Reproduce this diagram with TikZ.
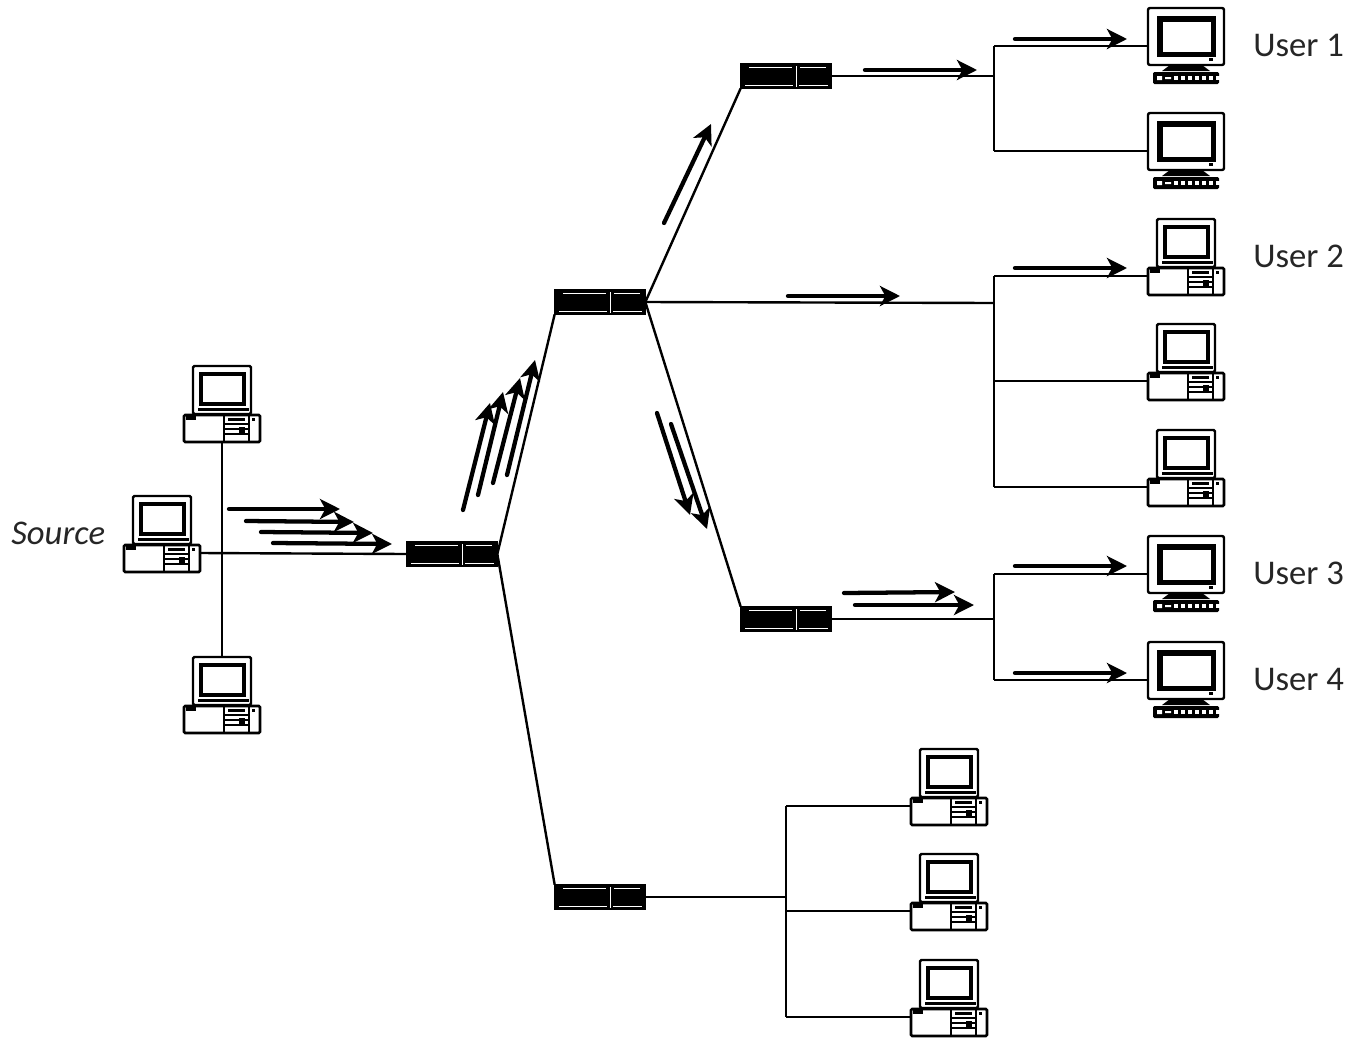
\documentclass[tikz,border=0pt]{standalone}
\usepackage{fontspec}
\setmainfont{Carlito}
\usetikzlibrary{arrows.meta,backgrounds}
\tikzset{
  x=0.75pt,y=-0.75pt,
  link/.style={line width=1.8pt},
  flow/.style={line width=3.2pt,line cap=round,-{Stealth[length=15pt,width=15pt,inset=4pt,fill=black]}},
  devbox/.style={minimum width=57pt,minimum height=57pt,inner sep=0pt,outer sep=0pt},
  switchbox/.style={fill=black,draw=black,line width=0.8pt,minimum width=68pt,minimum height=18.5pt,inner sep=0pt,outer sep=0pt},
  lbl/.style={font=\fontsize{26}{30}\selectfont,text=black!85,inner sep=0pt,anchor=west},
  pics/desktoppic/.style={code={
    \draw[fill=white,line width=1.8pt,rounded corners=1pt] (-29,-38) rectangle (29,10);
    \draw[fill=white,line width=3.4pt] (-21,-30) rectangle (22,0);
    \fill (-24,4) rectangle (27,7);
    \draw[fill=white,line width=2pt,rounded corners=1pt] (-38,11) rectangle (38,38);
    \fill (-36,11) rectangle (-26,16);
    \draw[line width=1pt] (2,11) -- (2,38) (27,11) -- (27,38);
    \draw[line width=1pt] (2,20) -- (27,20) (2,25) -- (27,25) (2,30) -- (27,30);
    \fill (6,14) rectangle (23,17);
    \fill (17,23) rectangle (23,30);
    \fill (30,14) rectangle (33,17);
  }},
  pics/monitorpic/.style={code={
    \fill (-16,19) -- (16,19) -- (24,25) -- (-24,25) -- cycle;
    \draw[fill=white,line width=1.8pt,rounded corners=1.5pt] (-38,-38) rectangle (38,19);
    \draw[fill=white,line width=4.2pt] (-26,-27) rectangle (27.5,8.5);
    \fill (23,12) rectangle (27,15);
    \fill[rounded corners=1pt] (-33,26) rectangle (33,38);
    \foreach \k in {-12,-5,...,30}{\fill[white] (\k,30) rectangle ++(4,4);}
    \fill[white] (-29,30) rectangle (-24,34) (-21,31) rectangle (-15,33);
  }},
  pics/switchpic/.style={code={
    \draw[white,line width=0.7pt] (-37,-9) -- (6,-9) (14,-9) -- (40,-9) (-41,9) -- (7,9) (13,9) -- (42,9) (10,-10) -- (10,11);
  }}
}
\newcommand\desktop[3]{%
  \node[devbox] (#1) at (#2,#3) {};
  \pic at (#2,#3) {desktoppic};
  \coordinate (#1-p) at (#2-38,#3+19);
  \coordinate (#1-q) at (#2+38,#3+19);
}
\newcommand\bigmon[3]{%
  \node[devbox] (#1) at (#2,#3) {};
  \pic at (#2,#3) {monitorpic};
  \coordinate (#1-p) at (#2-38,#3);
}
\newcommand\hub[3]{%
  \node[switchbox] (#1) at (#2,#3) {};
  \pic at (#2,#3) {switchpic};
}
\begin{document}
\begin{tikzpicture}
\useasboundingbox (0,0) rectangle (1353,1050);
% devices
\desktop{src}{162}{534}
\desktop{stop}{222}{404}
\desktop{sbot}{222}{695}
\hub{swa}{452}{554}
\hub{swb}{600}{302}
\hub{swc}{786}{76}
\hub{swd}{786}{619}
\hub{swe}{600}{897}
\bigmon{ua}{1186}{46}
\bigmon{ub}{1186}{151}
\desktop{da}{1186}{257}
\desktop{db}{1186}{362}
\desktop{dc}{1186}{468}
\bigmon{uc}{1186}{574}
\bigmon{ud}{1186}{680}
\desktop{ea}{949}{787}
\desktop{eb}{949}{892}
\desktop{ec}{949}{998}
% bus junctions
\coordinate (b1t) at (994,46);
\coordinate (b1m) at (994,76);
\coordinate (b1b) at (994,151);
\coordinate (b2t) at (994,276);
\coordinate (b2f) at (994,303);
\coordinate (b2m) at (994,381);
\coordinate (b2b) at (994,487);
\coordinate (b3t) at (994,574);
\coordinate (b3f) at (994,619);
\coordinate (b3b) at (994,680);
\coordinate (b4t) at (786,806);
\coordinate (b4f) at (786,897);
\coordinate (b4m) at (786,911);
\coordinate (b4b) at (786,1017);
\begin{scope}[on background layer]
\draw[link] (stop.south) -- (sbot.north);
\draw[link] (src-q) -- (swa.west);
\draw[link] (swa.east) -- (swb.south west);
\draw[link] (swa.east) -- (swe.north west);
\draw[link] (swb.east) -- (swc.south west);
\draw[link] (swb.east) -- (swd.north west);
\draw[link] (swb.east) -- (b2f);
\draw[link] (swc.east) -- (b1m);
\draw[link] (swd.east) -- (b3f);
\draw[link] (swe.east) -- (b4f);
\draw[link] (b1t) -- (b1b);
\draw[link] (b2t) -- (b2b);
\draw[link] (b3t) -- (b3b);
\draw[link] (b4t) -- (b4b);
\draw[link] (b1t) -- (ua-p);
\draw[link] (b1b) -- (ub-p);
\draw[link] (b2t) -- (da-p);
\draw[link] (b2m) -- (db-p);
\draw[link] (b2b) -- (dc-p);
\draw[link] (b3t) -- (uc-p);
\draw[link] (b3b) -- (ud-p);
\draw[link] (b4t) -- (ea-p);
\draw[link] (b4m) -- (eb-p);
\draw[link] (b4b) -- (ec-p);
\end{scope}
% flow arrows
\draw[flow] (229,509) -- (340,509);
\draw[flow] (246,521) -- (354,522);
\draw[flow] (261,532) -- (373,533);
\draw[flow] (273,543) -- (392,544);
\draw[flow] (463,510) -- (490,403);
\draw[flow] (478,495) -- (503,392);
\draw[flow] (493,483) -- (520,378);
\draw[flow] (507,475) -- (535,360);
\draw[flow] (664,223) -- (711,124);
\draw[flow] (788,296) -- (900,296);
\draw[flow] (865,70) -- (977,70);
\draw[flow] (1015,39) -- (1127,39);
\draw[flow] (1015,268) -- (1127,268);
\draw[flow] (1015,566) -- (1127,566);
\draw[flow] (1015,673) -- (1127,673);
\draw[flow] (844,593) -- (955,592);
\draw[flow] (855,605) -- (974,605);
\draw[flow] (657,413) -- (690,515);
\draw[flow] (671,424) -- (707,529);
% labels
\node[lbl] (l1) at (1253,45) {User 1};
\node[lbl] (l2) at (1253,256) {User 2};
\node[lbl] (l3) at (1253,573) {User 3};
\node[lbl] (l4) at (1253,679) {User 4};
\node[lbl] (l5) at (11,533) {\itshape Source};
\end{tikzpicture}
\end{document}
